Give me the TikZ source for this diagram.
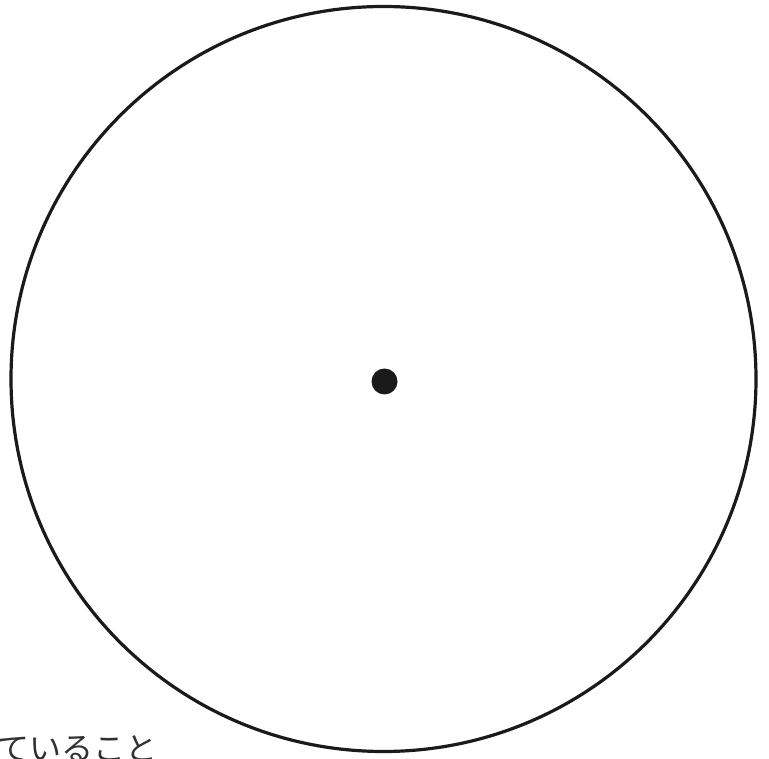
\documentclass[tikz,border=0pt]{standalone}
\usepackage{fontspec}
\newfontfamily\jpfont{Noto Sans CJK JP}
\definecolor{ink}{HTML}{1A1A1A}

\begin{document}
\begin{tikzpicture}[x=1pt,y=-1pt]
\useasboundingbox (0,0) rectangle (769,759);
\clip (0,0) rectangle (769,759);
\fill[white] (0,0) rectangle (769,759);
\draw[ink,line width=3.2pt] (383.5,379) circle (372.5);
\fill[ink] (384.5,381.5) circle (13);
\node[anchor=north west,inner sep=0pt,text=ink!90,font=\jpfont\fontsize{32}{32}\selectfont] (caption) at (-3,735) {ていること};
\end{tikzpicture}
\end{document}
